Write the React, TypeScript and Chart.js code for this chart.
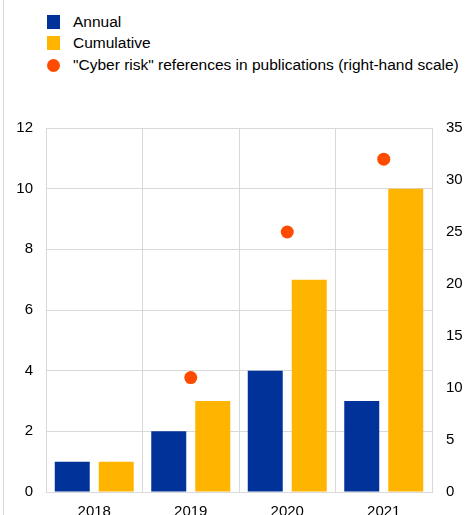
import React, { useEffect, useRef } from "react";
import { Chart, registerables } from "chart.js";

Chart.register(...registerables);

const categories = ["2018", "2019", "2020", "2021"];
const annual = [1, 2, 4, 3];
const cumulative = [1, 3, 7, 10];
const cyberRefs: (number | null)[] = [null, 11, 25, 32];
const legendLabels = ["Annual", "Cumulative", "\"Cyber risk\" references in publications (right-hand scale)"];

const BLUE = "#003299";
const YELLOW = "#FFB400";
const RED = "#FF4B00";
const GRID = "#d9d9d9";
const FONT = "Arial, 'Liberation Sans', sans-serif";

export default function App() {
  const ref = useRef<HTMLCanvasElement | null>(null);

  useEffect(() => {
    if (!ref.current) return;
    const chart = new Chart(ref.current, {
      type: "bar",
      data: {
        labels: categories,
        datasets: [
          {
            type: "line",
            label: legendLabels[2],
            data: cyberRefs,
            yAxisID: "y1",
            showLine: false,
            pointRadius: 6.5,
            pointHoverRadius: 6.5,
            pointBackgroundColor: RED,
            pointBorderColor: RED,
            pointBorderWidth: 0,
            backgroundColor: RED,
            borderColor: RED,
            order: 0,
          } as any,
          {
            label: legendLabels[0],
            data: annual,
            backgroundColor: BLUE,
            borderWidth: 0,
            yAxisID: "y",
            categoryPercentage: 0.912,
            barPercentage: 0.795,
            order: 1,
          },
          {
            label: legendLabels[1],
            data: cumulative,
            backgroundColor: YELLOW,
            borderWidth: 0,
            yAxisID: "y",
            categoryPercentage: 0.912,
            barPercentage: 0.795,
            order: 1,
          },
        ],
      },
      options: {
        animation: false,
        responsive: true,
        maintainAspectRatio: false,
        layout: { padding: { top: 10, left: 0, right: 0, bottom: 0 } },
        plugins: {
          legend: { display: false },
          tooltip: { enabled: false },
        },
        scales: {
          x: {
            offset: true,
            grid: { color: GRID, drawTicks: false, offset: true },
            border: { color: GRID },
            ticks: { color: "#000", font: { family: FONT, size: 15 }, padding: 11 },
            afterFit: (s: any) => {
              s.height = 40;
            },
          },
          y: {
            position: "left",
            min: 0,
            max: 12,
            grid: { color: GRID, drawTicks: false },
            border: { color: GRID },
            ticks: { stepSize: 2, color: "#000", font: { family: FONT, size: 15 }, padding: 13 },
            afterFit: (s: any) => {
              s.width = 46;
            },
          },
          y1: {
            position: "right",
            min: 0,
            max: 35,
            grid: { display: false, drawTicks: false },
            border: { color: GRID },
            ticks: { stepSize: 5, color: "#000", font: { family: FONT, size: 15 }, padding: 14 },
            afterFit: (s: any) => {
              s.width = 34;
            },
          },
        },
      },
    });
    return () => chart.destroy();
  }, []);

  const textStyle = (top: number): React.CSSProperties => ({
    position: "absolute",
    left: 73,
    top,
    height: 20,
    lineHeight: "20px",
    fontFamily: FONT,
    fontSize: 15.5,
    color: "#000",
    whiteSpace: "nowrap",
  });

  return (
    <div
      style={{
        position: "fixed",
        left: 0,
        top: 0,
        width: 466,
        height: 515,
        overflow: "hidden",
        background: "#fff",
      }}
    >
      <div style={{ position: "absolute", left: 3, top: 0, width: 1, height: 515, background: GRID }} />
      <div style={{ position: "absolute", left: 47, top: 15, width: 13, height: 14, background: BLUE }} />
      <div style={textStyle(12)}>{legendLabels[0]}</div>
      <div style={{ position: "absolute", left: 47, top: 36, width: 13, height: 14, background: YELLOW }} />
      <div style={textStyle(33)}>{legendLabels[1]}</div>
      <div style={{ position: "absolute", left: 47, top: 59, width: 13, height: 13, borderRadius: "50%", background: RED }} />
      <div style={textStyle(55)}>{legendLabels[2]}</div>
      <div style={{ position: "absolute", left: 0, top: 105, width: 466, height: 427 }}>
        <canvas ref={ref} />
      </div>
    </div>
  );
}
